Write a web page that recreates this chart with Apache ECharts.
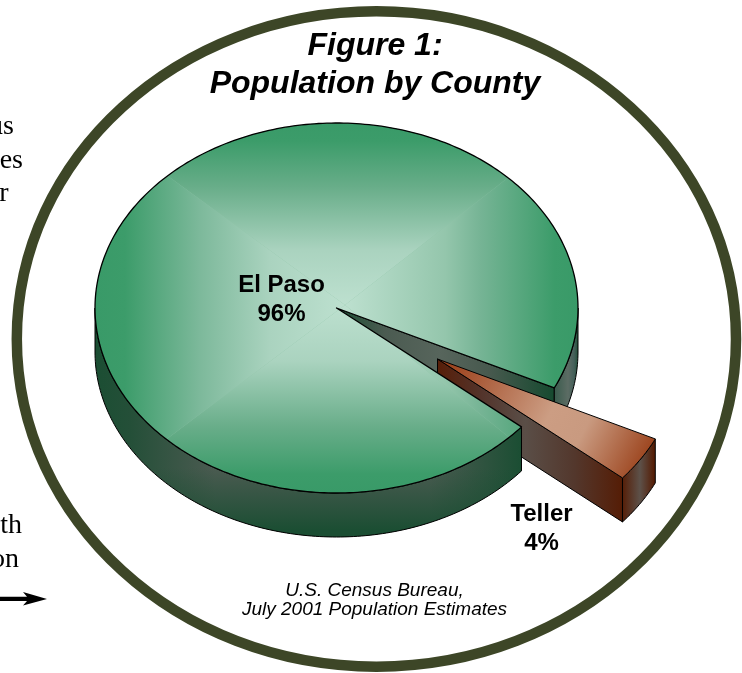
<!DOCTYPE html>
<html>
<head>
<meta charset="utf-8">
<style>html,body{margin:0;padding:0;background:#fff}#c{width:742px;height:673px}</style>
<script src="https://cdn.jsdelivr.net/npm/echarts@6/dist/echarts.min.js"></script>
</head>
<body>
<div id="c"></div>
<script>
// ---- data ----
var counties = ['El Paso', 'Teller'];
var shares = [96, 4];
var titleLines = ['Figure 1:', 'Population by County'];
var sourceLines = ['U.S. Census Bureau,', 'July 2001 Population Estimates'];
var marginFragments = ['us', 'es', 'r', 'th', 'on'];

// ---- layout ----
var CX = 336.5, CY = 308, RX = 241.5, RY = 185, DEPTH = 44;
var START = 25.6;               // degrees, clockwise from 3 o'clock: where Teller begins
var EXPLODE = [101, 51];        // pixel offset of the exploded slice
var FOCUS = [345, 305];
var BOX = [95, 123, 578, 493];
var SANS = '"Liberation Sans", Arial, sans-serif';
var SERIF = '"Liberation Serif", "Times New Roman", serif';

var total = shares.reduce(function (a, b) { return a + b; }, 0);
var tellerSweep = shares[1] / total * 360;
var A0 = START, A1 = START + tellerSweep;   // Teller spans A0..A1, El Paso A1..A0+360

function pt(deg, dx, dy) {
  var t = deg * Math.PI / 180;
  return [CX + RX * Math.cos(t) + (dx || 0), CY + RY * Math.sin(t) + (dy || 0)];
}
function arc(a, b, dx, dy) {
  var n = Math.max(2, Math.ceil(Math.abs(b - a))), out = [];
  for (var i = 0; i <= n; i++) out.push(pt(a + (b - a) * i / n, dx, dy));
  return out;
}
function grad(x, y, x2, y2, stops) {
  var a = stops[0][0], b = stops[stops.length - 1][0];
  return {
    type: 'linear', x: x, y: y, x2: x2, y2: y2, global: true,
    colorStops: stops.map(function (s) { return { offset: (s[0] - a) / (b - a), color: s[1] }; })
  };
}
function hGrad(stops) { return grad(stops[0][0], 0, stops[stops.length - 1][0], 0, stops); }
function wall(top, dy) {
  var low = top.map(function (p) { return [p[0], p[1] + dy]; }).reverse();
  return top.concat(low);
}
function poly(points, fill, z2, stroke, lw, clip) {
  var el = {
    type: 'polygon', z2: z2, silent: true,
    shape: { points: points },
    style: { fill: fill, stroke: stroke === undefined ? '#000' : stroke, lineWidth: lw === undefined ? 1 : lw, lineJoin: 'round' }
  };
  if (clip) el.clipPath = { type: 'polygon', shape: { points: clip } };
  return el;
}

var VERT_STOPS = [[0, '#399a68'], [0.1, '#3c9c6a'], [0.35, '#68ad89'], [0.7, '#aad3bf'], [1, '#bde0cf']];
var LEFT_STOPS = [[0, '#399a68'], [0.12, '#3c9c6a'], [0.42, '#7db99b'], [0.7, '#aad3bf'], [1, '#bde0cf']];
var RIGHT_STOPS = [[0, '#399a68'], [0.1, '#3c9c6a'], [0.42, '#76b495'], [0.57, '#94c6ac'], [1, '#bde0cf']];
var WALL_DARK = '#1b4e33', WALL_GREY = '#4b5b51';

function renderElPaso() {
  var top = [[CX, CY]].concat(arc(A1, A0 + 360));
  var kids = [];

  // wall of the cut left by the slice (upper radius)
  var upper = pt(A0);
  kids.push(poly([[CX, CY], upper, [upper[0], upper[1] + DEPTH], [CX, CY + DEPTH]],
    hGrad([[336, '#1b4e33'], [385, '#4b5b51'], [440, '#57655c'], [490, '#47594e'], [553, '#174a30']]), 1));
  // back-right outer wall
  kids.push(poly(wall(arc(360, A0 + 360), DEPTH),
    hGrad([[553, '#36594a'], [568, '#5c6c64'], [574, '#45605a'], [579, '#1b4e33']]), 1));

  // front outer wall, with a vertical darkening on top
  var front = wall(arc(A1, 180), DEPTH);
  kids.push(poly(front,
    hGrad([[95, WALL_DARK], [130, '#244f38'], [215, WALL_GREY], [430, WALL_GREY], [521, WALL_DARK]]), 3, 'none'));
  kids.push(poly(front,
    grad(0, 468, 0, 530, [[468, 'rgba(27,78,51,0)'], [530, 'rgba(27,78,51,1)']]), 3, '#000', 1));

  // top face: rectangular path gradient built from four triangles
  var tl = [BOX[0], BOX[1]], tr = [BOX[2], BOX[1]], br = [BOX[2], BOX[3]], bl = [BOX[0], BOX[3]];
  kids.push(poly(top, '#8cc2a5', 4, 'none', 0));
  kids.push(poly([tl, tr, FOCUS], grad(0, BOX[1], 0, FOCUS[1], VERT_STOPS), 4, 'none', 0, top));
  kids.push(poly([tr, br, FOCUS], grad(BOX[2], 0, FOCUS[0], 0, RIGHT_STOPS), 4, 'none', 0, top));
  kids.push(poly([br, bl, FOCUS], grad(0, BOX[3], 0, FOCUS[1], VERT_STOPS), 4, 'none', 0, top));
  kids.push(poly([bl, tl, FOCUS], grad(BOX[0], 0, FOCUS[0], 0, LEFT_STOPS), 4, 'none', 0, top));
  kids.push(poly(top, 'none', 4, '#000', 1.3));
  return kids;
}

function renderTeller() {
  var dx = EXPLODE[0], dy = EXPLODE[1];
  var apex = [CX + dx, CY + dy];
  var lower = pt(A1, dx, dy);
  var kids = [];
  // radial wall
  kids.push(poly([apex, lower, [lower[0], lower[1] + DEPTH], [apex[0], apex[1] + DEPTH]],
    hGrad([[437, '#571e08'], [480, '#53332a'], [525, '#5a4e47'], [575, '#53372c'], [622, '#551d06']]), 2));
  // outer wall
  kids.push(poly(wall(arc(A0, A1, dx, dy), DEPTH),
    hGrad([[622, '#551d06'], [640, '#5d5149'], [654, '#551d06']]), 2));
  // top face
  var top = [apex].concat(arc(A0, A1, dx, dy));
  kids.push(poly(top,
    grad(apex[0], apex[1], 650, 470, [[0, '#983a12'], [0.18, '#a95a38'], [0.52, '#cc9d83'], [0.68, '#c99a80'], [1, '#973a12']]), 2));
  return kids;
}

var series = [{
  type: 'custom',
  coordinateSystem: 'none',
  silent: true,
  animation: false,
  data: counties.map(function (c, i) { return [i, shares[i]]; }),
  renderItem: function (params, api) {
    var i = params.dataIndex;
    var kids = i === 0 ? renderElPaso() : renderTeller();
    var lp = i === 0 ? [281.5, 299.5] : [541.5, 529];
    kids.push({
      type: 'text', z2: 6, silent: true,
      style: {
        text: counties[i] + '\n' + api.value(1) + '%',
        x: lp[0], y: lp[1], align: 'center', verticalAlign: 'middle',
        font: 'bold 24px ' + SANS, lineHeight: 29, fill: '#000'
      }
    });
    return { type: 'group', children: kids };
  }
}];

var fragmentGraphics = marginFragments.map(function (t, i) {
  var right = [14, 23, 8.5, 22, 19][i], base = [141, 175, 208, 540, 574][i];
  return {
    type: 'text', silent: true,
    style: { text: t, x: right, y: base, align: 'right', verticalAlign: 'bottom', font: '28px ' + SERIF, fill: '#000' }
  };
});

var option = {
  animation: false,
  backgroundColor: '#fff',
  title: [
    {
      text: titleLines.join('\n'), left: 375, top: 27, textAlign: 'center',
      textStyle: { fontFamily: SANS, fontSize: 32, fontWeight: 'bold', fontStyle: 'italic', color: '#000', lineHeight: 38 }, padding: 0
    },
    {
      text: sourceLines.join('\n'), left: 374.5, top: 581, textAlign: 'center',
      textStyle: { fontFamily: SANS, fontSize: 19, fontWeight: 'normal', fontStyle: 'italic', color: '#000', lineHeight: 19 }, padding: 0
    }
  ],
  graphic: {
    elements: [
      { type: 'ellipse', silent: true, shape: { cx: 376.4, cy: 339, rx: 359.6, ry: 327.7 }, style: { fill: 'none', stroke: '#3d4627', lineWidth: 10.5 } },
      { type: 'polygon', silent: true, shape: { points: [[0, 596.7], [27, 596.7], [23, 592], [47, 599], [23, 605.5], [27, 601], [0, 601]] }, style: { fill: '#000' } }
    ].concat(fragmentGraphics)
  },
  series: series
};

var chart = echarts.init(document.getElementById('c'), null, { renderer: 'canvas' });
chart.setOption(option);
</script>
</body>
</html>
